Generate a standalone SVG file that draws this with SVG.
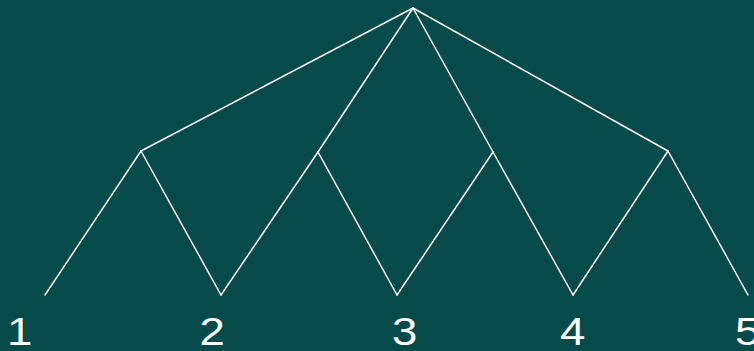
<svg xmlns="http://www.w3.org/2000/svg" width="754" height="351" viewBox="0 0 754 351">
<style>
.e{stroke:#ffffff;stroke-width:1.5;fill:none;stroke-linecap:round}
.t{font-family:"Liberation Sans",Arial,sans-serif;font-size:38px;fill:#ffffff}
</style>
<rect width="754" height="351" fill="#074a4a"/>
<g id="connectors">
<line class="e" x1="413" y1="8" x2="141" y2="151"/>
<line class="e" x1="413" y1="8" x2="318" y2="152"/>
<line class="e" x1="413" y1="8" x2="493" y2="152"/>
<line class="e" x1="413" y1="8" x2="668" y2="151"/>
<line class="e" x1="141" y1="151" x2="45" y2="295"/>
<line class="e" x1="141" y1="151" x2="221" y2="295"/>
<line class="e" x1="318" y1="152" x2="221" y2="295"/>
<line class="e" x1="318" y1="152" x2="397" y2="295"/>
<line class="e" x1="493" y1="152" x2="397" y2="295"/>
<line class="e" x1="493" y1="152" x2="573" y2="295"/>
<line class="e" x1="668" y1="151" x2="573" y2="295"/>
<line class="e" x1="668" y1="151" x2="748" y2="295"/>
</g>
<g id="n1" transform="translate(7,344.5) scale(1.2,1)"><text class="t" x="0" y="0">1</text></g>
<g id="n2" transform="translate(199.5,344.5) scale(1.2,1)"><text class="t" x="0" y="0">2</text></g>
<g id="n3" transform="translate(392,344.5) scale(1.2,1)"><text class="t" x="0" y="0">3</text></g>
<g id="n4" transform="translate(560,344.5) scale(1.2,1)"><text class="t" x="0" y="0">4</text></g>
<g id="n5" transform="translate(735,344.5) scale(1.2,1)"><text class="t" x="0" y="0">5</text></g>
</svg>
